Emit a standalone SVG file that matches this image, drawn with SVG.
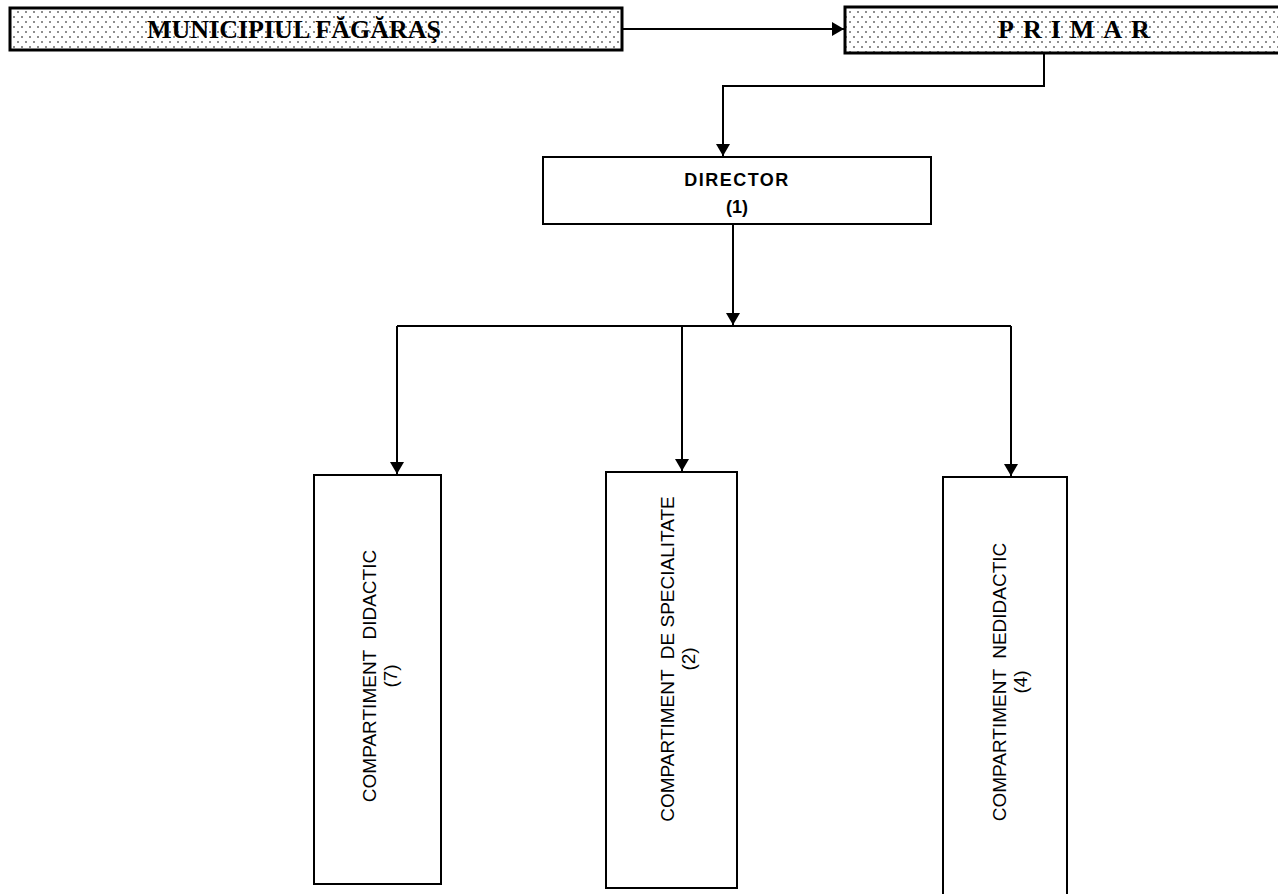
<svg xmlns="http://www.w3.org/2000/svg" width="1278" height="894" viewBox="0 0 1278 894">
<defs>
<pattern id="dots" width="8" height="10" patternUnits="userSpaceOnUse">
<rect width="8" height="10" fill="#ffffff"/>
<circle cx="2" cy="2" r="0.8" fill="#000"/>
<circle cx="6" cy="7" r="0.8" fill="#000"/>
</pattern>
<marker id="arr" markerWidth="12" markerHeight="14" refX="12" refY="7" orient="auto" markerUnits="userSpaceOnUse">
<path d="M0,0 L12,7 L0,14 Z" fill="#000"/>
</marker>
<style>
.top{fill:url(#dots);stroke:#000;stroke-width:3}
.box{fill:#fff;stroke:#000;stroke-width:2}
.tt{font-family:"Liberation Serif",serif;font-weight:bold;font-size:26px;fill:#000}
.dt{font-family:"Liberation Sans",Arial,sans-serif;font-weight:bold;font-size:18px;fill:#000}
.vt{font-family:"Liberation Sans",Arial,sans-serif;font-size:19px;fill:#000}
.ln{fill:none;stroke:#000;stroke-width:2}
</style>
</defs>
<rect width="1278" height="894" fill="#fff"/>
<g id="municipiul">
<rect class="top" x="10" y="8" width="612" height="42"/>
<text class="tt" x="147" y="38">MUNICIPIUL FĂGĂRAŞ</text>
</g>
<g id="primar">
<rect class="top" x="845" y="7" width="440" height="46"/>
<text class="tt" x="998" y="38" letter-spacing="9">PRIMAR</text>
</g>
<g id="director">
<rect class="box" x="543" y="157" width="388" height="67"/>
<text class="dt" x="737" y="186" text-anchor="middle" letter-spacing="1.5">DIRECTOR</text>
<text class="dt" x="737" y="213" text-anchor="middle">(1)</text>
</g>
<g id="didactic">
<rect class="box" x="314" y="475" width="127" height="409"/>
<text class="vt" transform="translate(376,676) rotate(-90)" text-anchor="middle" xml:space="preserve">COMPARTIMENT  DIDACTIC</text>
<text class="vt" transform="translate(397,676) rotate(-90)" text-anchor="middle">(7)</text>
</g>
<g id="specialitate">
<rect class="box" x="606" y="472" width="131" height="416"/>
<text class="vt" transform="translate(674,659) rotate(-90)" text-anchor="middle" xml:space="preserve">COMPARTIMENT  DE SPECIALITATE</text>
<text class="vt" transform="translate(695,659) rotate(-90)" text-anchor="middle">(2)</text>
</g>
<g id="nedidactic">
<rect class="box" x="943" y="477" width="124" height="430"/>
<text class="vt" transform="translate(1006,682) rotate(-90)" text-anchor="middle" xml:space="preserve">COMPARTIMENT  NEDIDACTIC</text>
<text class="vt" transform="translate(1027,682) rotate(-90)" text-anchor="middle">(4)</text>
</g>
<g id="connectors">
<line class="ln" x1="622" y1="29" x2="844" y2="29" marker-end="url(#arr)"/>
<polyline class="ln" points="1044,53 1044,86 723,86 723,156" marker-end="url(#arr)"/>
<line class="ln" x1="733" y1="224" x2="733" y2="325" marker-end="url(#arr)"/>
<line class="ln" x1="397" y1="326" x2="1011" y2="326"/>
<line class="ln" x1="397" y1="326" x2="397" y2="474" marker-end="url(#arr)"/>
<line class="ln" x1="682" y1="326" x2="682" y2="471" marker-end="url(#arr)"/>
<line class="ln" x1="1011" y1="326" x2="1011" y2="476" marker-end="url(#arr)"/>
</g>
</svg>
